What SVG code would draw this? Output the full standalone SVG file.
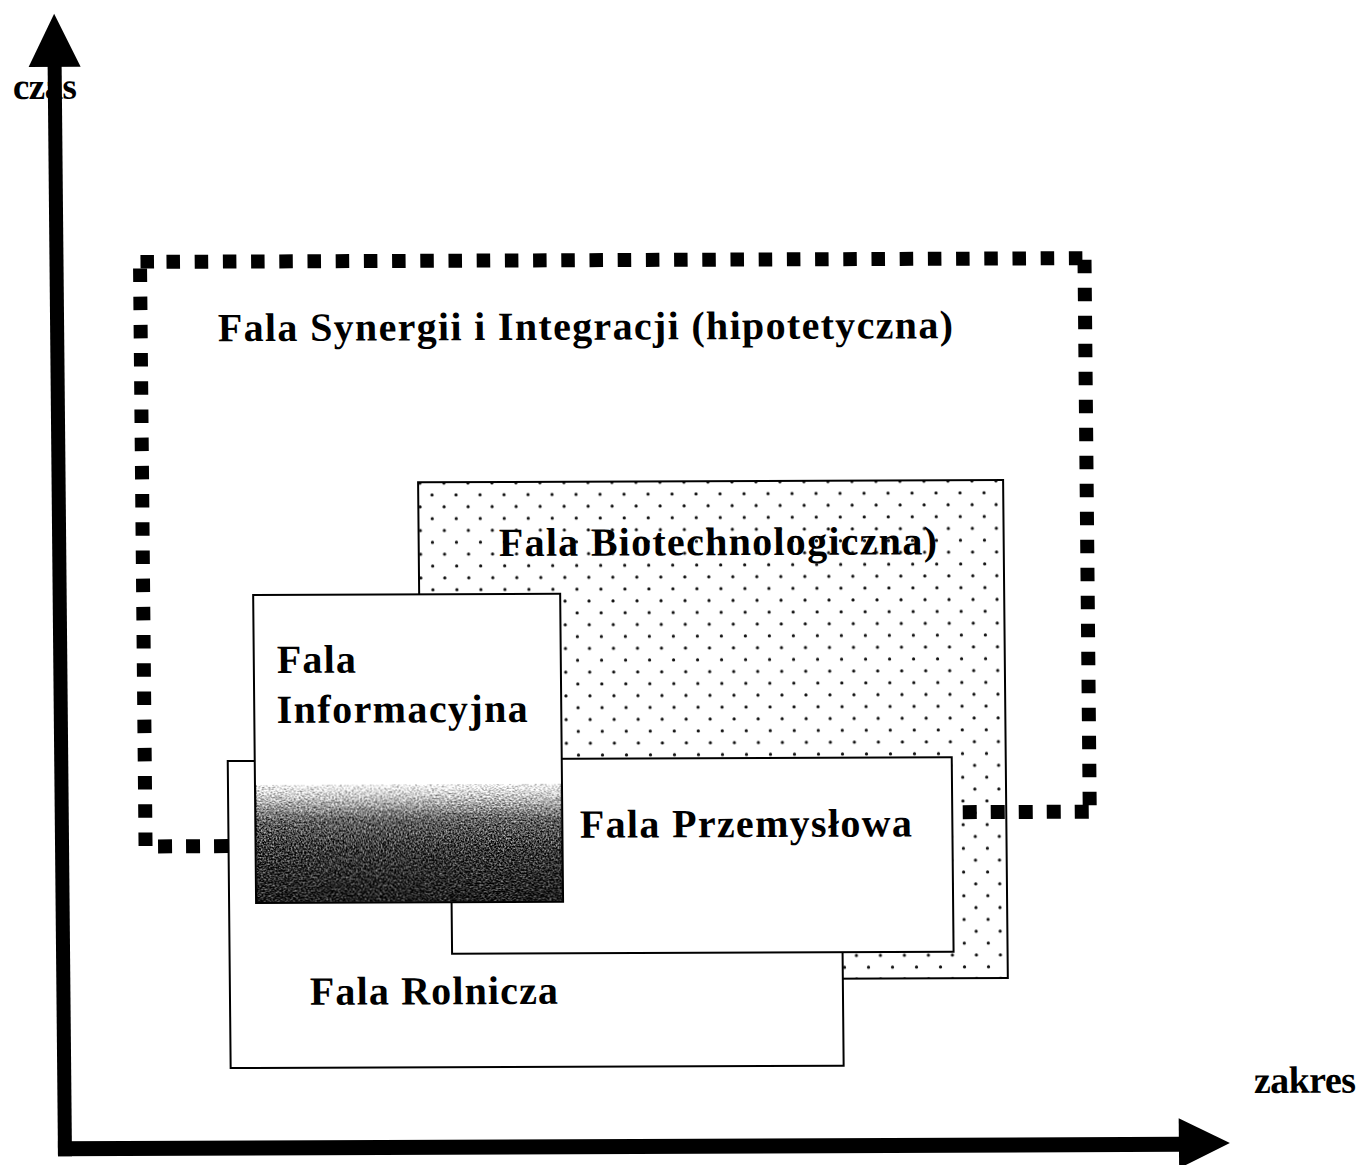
<svg xmlns="http://www.w3.org/2000/svg" width="1361" height="1165" viewBox="0 0 1361 1165">
  <style>
    .lbl { font-family: "Liberation Serif", "Times New Roman", serif; font-weight: bold; font-size: 40px; fill: #000; }
    .box { fill: #fff; stroke: #000; stroke-width: 2; }
    .frame { fill: none; stroke: #000; stroke-width: 14; }
  </style>
  <defs>
    <!-- staggered dot fill for the biotechnology wave -->
    <pattern id="dots" patternUnits="userSpaceOnUse" x="415.3" y="490.85" width="24" height="23.7">
      <circle cx="12" cy="5.9" r="1.6" fill="#111"/>
      <circle cx="0" cy="17.75" r="1.6" fill="#111"/>
      <circle cx="24" cy="17.75" r="1.6" fill="#111"/>
    </pattern>
    <!-- shading at the foot of the information wave -->
    <linearGradient id="infoShade" x1="0" y1="0" x2="0" y2="1">
      <stop offset="0" stop-color="#ffffff"/>
      <stop offset="0.1" stop-color="#cacaca"/>
      <stop offset="0.3" stop-color="#626262"/>
      <stop offset="0.55" stop-color="#3a3a3a"/>
      <stop offset="1" stop-color="#1a1a1a"/>
    </linearGradient>
    <filter id="grain" x="0" y="0" width="1" height="1" color-interpolation-filters="sRGB">
      <feTurbulence type="fractalNoise" baseFrequency="0.6" numOctaves="2" seed="7" result="noise"/>
      <feColorMatrix in="noise" type="matrix" values="1 0 0 0 0  1 0 0 0 0  1 0 0 0 0  0 0 0 0 1" result="grey"/>
      <feComposite in="SourceGraphic" in2="grey" operator="arithmetic" k1="0" k2="1" k3="1.5" k4="-0.75"/>
    </filter>
  </defs>

  <rect width="1361" height="1165" fill="#fff"/>

  <g transform="matrix(1 -0.004 0.0095 1 0 0)">
    <!-- Fala Biotechnologiczna -->
    <g id="node-biotechnologiczna">
      <rect x="413.5" y="484" width="585" height="498" fill="#fff" stroke="none"/>
      <rect x="413.5" y="484" width="585" height="498" fill="url(#dots)" stroke="#000" stroke-width="2"/>
      <text class="lbl" x="493.7" y="558" textLength="438" lengthAdjust="spacing">Fala Biotechnologiczna)</text>
    </g>

    <!-- Fala Synergii i Integracji: square-dotted frame -->
    <g id="node-synergia">
      <rect x="138" y="255.5" width="13.5" height="13.5" fill="#000"/>
      <path class="frame" d="M164 262.5 H1080" stroke-dasharray="13.5 14.7"/>
      <path class="frame" d="M137.5 269 V846.5" stroke-dasharray="13.5 14.7"/>
      <path class="frame" d="M1082 264 V809.5" stroke-dasharray="13.5 14.5"/>
      <path class="frame" d="M871 816 H1081" stroke-dasharray="14 14"/>
      <path class="frame" d="M150 847 H250" stroke-dasharray="14 14"/>
      <text class="lbl" x="214.8" y="342" textLength="735" lengthAdjust="spacing">Fala Synergii i Integracji (hipotetyczna)</text>
    </g>

    <!-- Fala Rolnicza -->
    <g id="node-rolnicza">
      <rect class="box" x="220.5" y="762" width="613" height="307"/>
      <text class="lbl" x="300.5" y="1006" textLength="248" lengthAdjust="spacing">Fala Rolnicza</text>
    </g>

    <!-- Fala Przemysłowa -->
    <g id="node-przemyslowa">
      <rect class="box" x="443" y="761" width="501.5" height="194.5"/>
      <text class="lbl" x="572" y="840" textLength="332" lengthAdjust="spacing">Fala Przemysłowa</text>
    </g>

    <!-- Fala Informacyjna -->
    <g id="node-informacyjna">
      <rect x="247.5" y="596" width="307" height="308" fill="#fff"/>
      <rect x="248.5" y="786" width="305" height="117" fill="url(#infoShade)" filter="url(#grain)"/>
      <rect x="247.5" y="596" width="307" height="308" fill="none" stroke="#000" stroke-width="2"/>
      <text class="lbl" x="270.6" y="674" textLength="79" lengthAdjust="spacing">Fala</text>
      <text class="lbl" x="270" y="724" textLength="251" lengthAdjust="spacing">Informacyjna</text>
    </g>

    <!-- axis labels -->
    <text class="lbl" x="12" y="99" style="font-size:37px" textLength="64" lengthAdjust="spacing">czas</text>
    <text class="lbl" x="1243.6" y="1098" style="font-size:38px" textLength="102" lengthAdjust="spacing">zakres</text>

    <!-- axes -->
    <g id="axes" fill="#000">
      <rect x="47" y="60" width="14" height="1096.5"/>
      <polygon points="54,14 80,67 28,67"/>
      <rect x="47" y="1141.5" width="1123" height="15"/>
      <polygon points="1168,1123 1168,1173 1219,1148"/>
    </g>
  </g>
</svg>
